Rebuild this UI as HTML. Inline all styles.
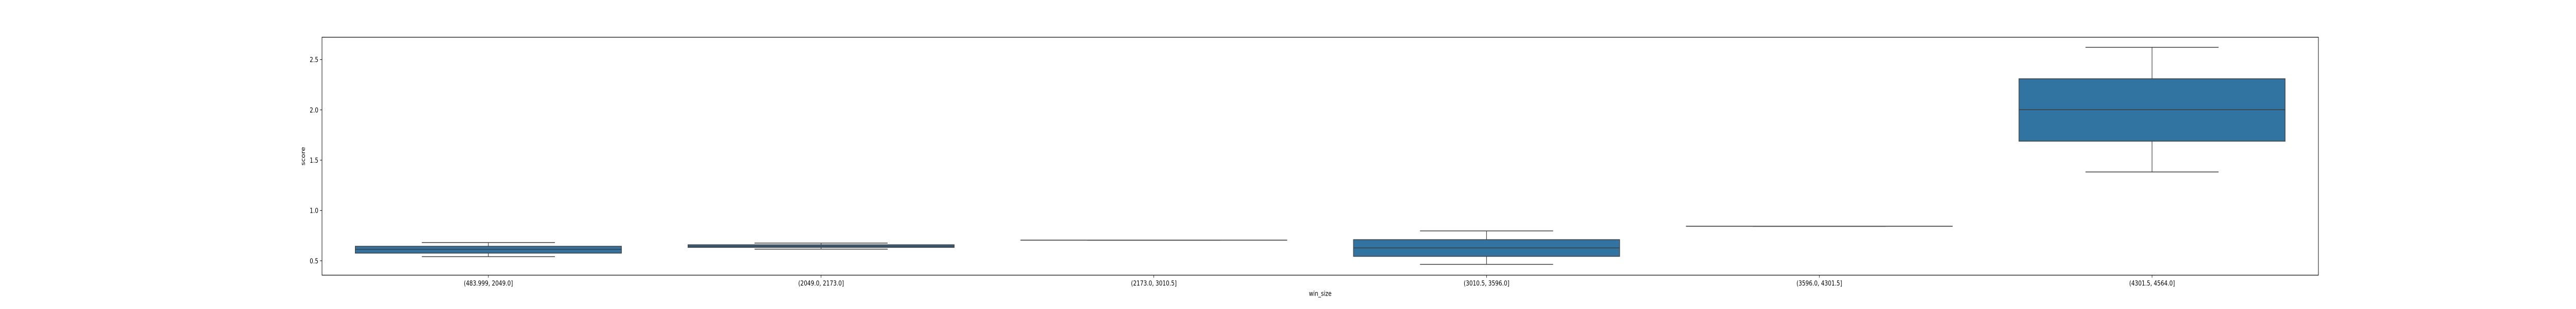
<!DOCTYPE html>
<html><head><meta charset="utf-8">
<style>
html,body{margin:0;padding:0;background:#fff;width:100%;height:100%;overflow:hidden;}
svg{display:block;position:absolute;left:0;top:0;width:100vw;height:100vh;font-family:"DejaVu Sans","Liberation Sans",sans-serif;}
</style></head><body>
<svg id="chart" viewBox="0 0 6400 600" preserveAspectRatio="none"></svg>
<script>
const categories = ["(483.999, 2049.0]","(2049.0, 2173.0]","(2173.0, 3010.5]","(3010.5, 3596.0]","(3596.0, 4301.5]","(4301.5, 4564.0]"];
const whiskerLow = [0.541,0.616,0.705,0.464,0.843,1.383];
const q1 = [0.576,0.633,0.705,0.544,0.843,1.689];
const medians = [0.613,0.645,0.705,0.628,0.843,2.002];
const q3 = [0.644,0.659,0.705,0.710,0.843,2.309];
const whiskerHigh = [0.681,0.676,0.705,0.797,0.843,2.622];
const yTicks = [0.5,1.0,1.5,2.0,2.5];
const yTickLabels = ["0.5","1.0","1.5","2.0","2.5"];

const L=800,R=5760,T=72.3,B=534.3,yMin=0.357,yMax=2.722;
const NS="http://www.w3.org/2000/svg";
const svg=document.getElementById('chart');
function y(v){return B-(v-yMin)/(yMax-yMin)*(B-T);}
const band=(R-L)/categories.length;
function xc(i){return L+band*(i+0.5);}
function mk(tag,attrs,parent){const e=document.createElementNS(NS,tag);for(const k in attrs)e.setAttribute(k,attrs[k]);(parent||svg).appendChild(e);return e;}

const plot=mk('g',{});


const ec='#3f3f3f';
categories.forEach((c,i)=>{
  const g=mk('g',{},plot);
  
  
  const cx=xc(i),bw=band*0.8,cw=bw/2;
  const wl=mk('line',{x1:cx,x2:cx,y1:y(whiskerLow[i]),y2:y(q1[i]),stroke:ec,'stroke-width':1.5},g);
  
  
  const wh=mk('line',{x1:cx,x2:cx,y1:y(q3[i]),y2:y(whiskerHigh[i]),stroke:ec,'stroke-width':1.5},g);
  
  
  const cl=mk('line',{x1:cx-cw/2,x2:cx+cw/2,y1:y(whiskerLow[i]),y2:y(whiskerLow[i]),stroke:ec,'stroke-width':1.5},g);
  
  
  const ch=mk('line',{x1:cx-cw/2,x2:cx+cw/2,y1:y(whiskerHigh[i]),y2:y(whiskerHigh[i]),stroke:ec,'stroke-width':1.5},g);
  
  
  const h=Math.max(0.01,y(q1[i])-y(q3[i]));
  const r=mk('rect',{x:cx-bw/2,y:y(q3[i]),width:bw,height:h,fill:'#3274a1',stroke:ec,'stroke-width':1.5},g);
  
  
  const m=mk('line',{x1:cx-bw/2,x2:cx+bw/2,y1:y(medians[i]),y2:y(medians[i]),stroke:ec,'stroke-width':1.5},g);
  
  
  const tk=mk('line',{x1:cx,x2:cx,y1:B,y2:B+5,stroke:'#000','stroke-width':1},svg);
  
  
  const t=mk('text',{x:cx,y:B+20,'font-size':13.5,'text-anchor':'middle',fill:'#000'},svg);
  t.textContent=c;
  
  
});
yTicks.forEach((v,i)=>{
  const tk=mk('line',{x1:L-5,x2:L,y1:y(v),y2:y(v),stroke:'#000','stroke-width':1});
  
  
  const t=mk('text',{x:L-9,y:y(v)+5,'font-size':13.5,'text-anchor':'end',fill:'#000'});
  t.textContent=yTickLabels[i];
  
  
});
const frame=mk('rect',{x:L,y:T,width:R-L,height:B-T,fill:'none',stroke:'#000','stroke-width':1.2});


const xl=mk('text',{x:(L+R)/2,y:B+40,'font-size':13.5,'text-anchor':'middle',fill:'#000'});
xl.textContent='win_size';


const yl=mk('text',{x:0,y:0,'font-size':13.5,'text-anchor':'middle',fill:'#000',transform:'translate(758,'+((T+B)/2)+') rotate(-90)'});
yl.textContent='score';


</script>
</body></html>
